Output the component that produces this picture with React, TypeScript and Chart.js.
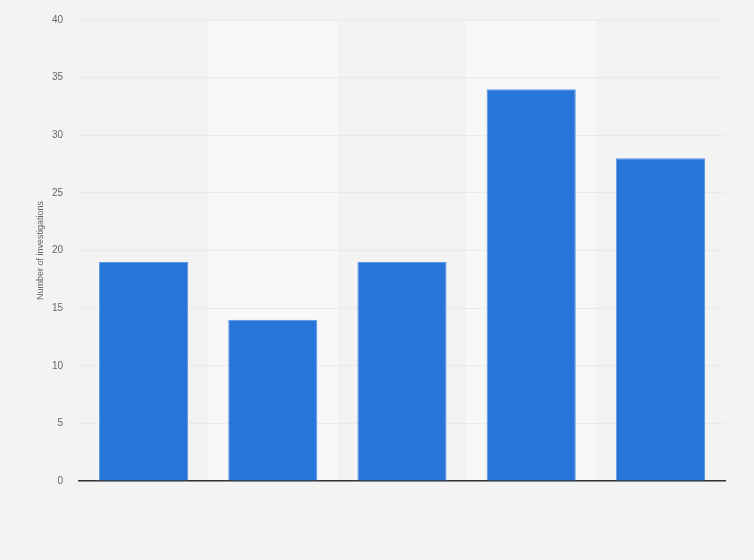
import { Chart, registerables } from 'chart.js';
import { useEffect, useRef } from 'react';

Chart.register(...registerables);

const categories = ['A', 'B', 'C', 'D', 'E'];
const investigations = [19, 14, 19, 34, 28];
const yTicks = [0, 5, 10, 15, 20, 25, 30, 35, 40];

const bandPlugin = {
  id: 'bands',
  beforeDraw(chart: Chart) {
    const { ctx, chartArea, scales } = chart;
    ctx.save();
    ctx.fillStyle = '#f3f3f3';
    ctx.fillRect(0, 0, chart.width, chart.height);
    const x = scales.x;
    const step = (chartArea.right - chartArea.left) / categories.length;
    ctx.fillStyle = '#f8f8f8';
    categories.forEach((_, i) => {
      if (i % 2 === 1) {
        const cx = x.getPixelForValue(i);
        ctx.fillRect(cx - step / 2, chartArea.top, step, chartArea.bottom - chartArea.top);
      }
    });
    ctx.restore();
  }
};

const App = () => {
  const chartRef = useRef<HTMLCanvasElement>(null);
  const chartInstanceRef = useRef<Chart | null>(null);

  useEffect(() => {
    document.body.style.margin = '0';
    const canvas = chartRef.current;
    if (!canvas) return;
    const ctx = canvas.getContext('2d');
    if (!ctx) return;

    if (chartInstanceRef.current) chartInstanceRef.current.destroy();

    chartInstanceRef.current = new Chart(ctx, {
      type: 'bar',
      data: {
        labels: categories,
        datasets: [
          {
            label: 'Number of investigations',
            data: investigations,
            backgroundColor: '#2775db',
            borderColor: '#5b97e6',
            borderWidth: 1,
            barPercentage: 0.69,
            categoryPercentage: 1
          }
        ]
      },
      options: {
        animation: false,
        responsive: false,
        layout: { padding: { top: 20, right: 29, bottom: 79, left: 0 } },
        plugins: {
          legend: { display: false },
          tooltip: { enabled: false }
        },
        scales: {
          x: {
            ticks: { display: false },
            grid: { display: false },
            border: { display: true, color: '#333333', width: 1.5 },
            afterFit: (scale: any) => {
              scale.height = 0;
            }
          },
          y: {
            min: 0,
            max: 40,
            afterBuildTicks: (scale: any) => {
              scale.ticks = yTicks.map((v) => ({ value: v }));
            },
            ticks: {
              color: '#666666',
              padding: 16,
              font: { family: 'Liberation Sans, Arial, sans-serif', size: 10 }
            },
            grid: {
              color: '#dddddd',
              drawTicks: false,
              lineWidth: 1
            },
            border: { display: false, dash: [1, 1] },
            title: {
              display: true,
              text: 'Number of investigations',
              color: '#666666',
              padding: { top: 35, bottom: 0 },
              font: { family: 'Liberation Sans, Arial, sans-serif', size: 9 }
            },
            afterFit: (scale: any) => {
              scale.width = 79;
              scale.paddingTop = 0;
              scale.paddingBottom = 0;
            }
          }
        }
      },
      plugins: [bandPlugin]
    });

    return () => {
      if (chartInstanceRef.current) chartInstanceRef.current.destroy();
    };
  }, []);

  return (
    <div style={{ width: 754, height: 560 }}>
      <canvas ref={chartRef} width={754} height={560} style={{ width: 754, height: 560 }}></canvas>
    </div>
  );
};

export default App;
